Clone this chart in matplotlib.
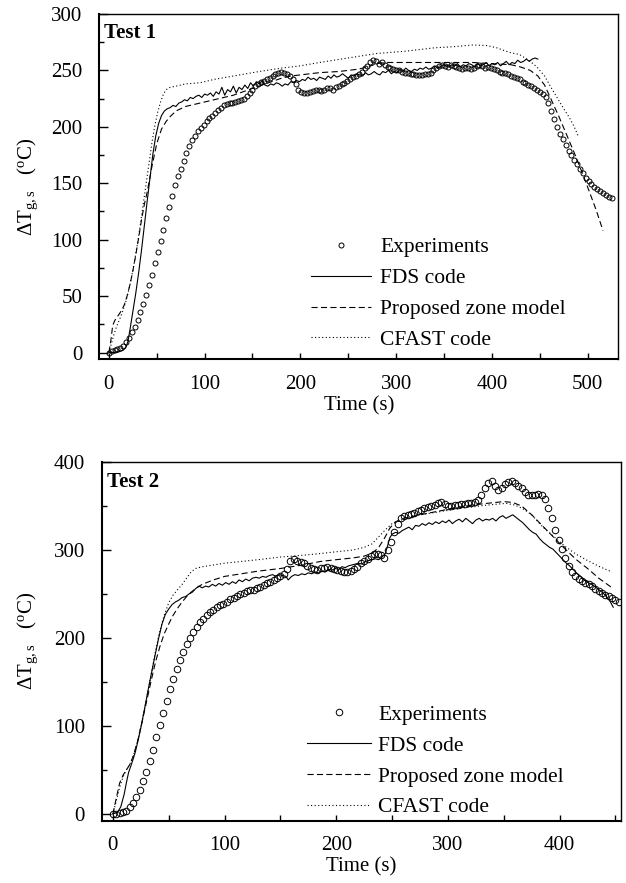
import matplotlib
matplotlib.use("Agg")
import matplotlib.pyplot as plt
from matplotlib.ticker import MultipleLocator

plt.rcParams['font.family'] = ['Liberation Serif', 'DejaVu Serif']
plt.rcParams['mathtext.fontset'] = 'custom'
plt.rcParams['mathtext.rm'] = 'Liberation Serif'
plt.rcParams['mathtext.it'] = 'Liberation Serif:italic'
plt.rcParams['mathtext.bf'] = 'Liberation Serif:bold'

# ---------------- Test 1 ----------------
t1_exp_time = list(range(0, 526, 3))
t1_exp_temp = [0, 1, 2, 3, 4, 6, 9, 13, 18, 23, 29, 36, 43, 51, 60, 69, 79, 89, 99, 109,
               119, 129, 139, 148, 156, 163, 170, 177, 183, 188, 192, 196, 199, 202, 205, 208, 210, 212, 215, 217,
               219, 220, 221, 221, 222, 223, 224, 225, 227, 230, 233, 236, 238, 240, 241, 242, 243, 245, 247, 248,
               249, 248, 247, 245, 242, 238, 233, 231, 230, 230, 231, 232, 233, 233, 232, 233, 234, 234, 233, 235,
               236, 238, 239, 241, 242, 244, 245, 247, 249, 252, 254, 257, 259, 258, 256, 257, 255, 253, 252, 251,
               250, 250, 249, 248, 248, 247, 247, 246, 246, 246, 247, 247, 248, 250, 252, 254, 255, 254, 253, 255,
               254, 253, 252, 251, 252, 252, 251, 252, 254, 255, 254, 252, 253, 252, 251, 250, 249, 248, 248, 247,
               245, 244, 243, 242, 240, 239, 237, 236, 234, 233, 231, 229, 226, 221, 214, 207, 200, 194, 189, 184,
               179, 175, 171, 167, 163, 159, 155, 152, 149, 147, 145, 143, 141, 140, 138, 137]

t1_fds_time = [0, 5, 10, 15, 18, 20, 22, 25, 28, 31, 34, 37, 40, 43, 46, 49, 52, 55, 58, 61,
               64, 67, 70, 73, 76, 79, 82, 85, 88, 91, 94, 97, 100, 103, 106, 109, 112, 115, 118, 121,
               124, 127, 130, 133, 136, 139, 142, 145, 148, 151, 154, 157, 160, 163, 166, 169, 172, 175, 178, 181,
               184, 187, 190, 193, 196, 199, 202, 205, 208, 211, 214, 217, 220, 223, 226, 229, 232, 235, 238, 241,
               244, 247, 250, 253, 256, 259, 262, 265, 268, 271, 274, 277, 280, 283, 286, 289, 292, 295, 298, 301,
               304, 307, 310, 313, 316, 319, 322, 325, 328, 331, 334, 337, 340, 343, 346, 349, 352, 355, 358, 361,
               364, 367, 370, 373, 376, 379, 382, 385, 388, 391, 394, 397, 400, 403, 406, 409, 412, 415, 418, 421,
               424, 427, 430, 433, 436, 439, 442, 445, 448]
t1_fds_temp = [0, 0, 0.5, 2, 5, 10, 20, 36, 52, 70, 90, 112, 134, 155, 176, 192, 203, 210, 214, 216,
               217, 219, 218, 221, 222, 224, 223, 226, 225, 227, 228, 226, 229, 228, 230, 227, 231, 229, 235, 228,
               233, 231, 236, 230, 235, 233, 237, 234, 239, 236, 240, 238, 241, 237, 236, 238, 237, 239, 238, 236,
               238, 237, 240, 239, 241, 240, 242, 241, 244, 242, 243, 241, 244, 243, 242, 245, 243, 246, 244, 245,
               247, 245, 243, 246, 245, 247, 246, 245, 248, 246, 247, 249, 247, 246, 249, 248, 250, 247, 249, 248,
               251, 249, 252, 250, 249, 251, 250, 252, 251, 253, 251, 252, 254, 252, 253, 255, 254, 253, 255, 254,
               256, 253, 255, 254, 256, 255, 253, 256, 254, 255, 257, 254, 256, 255, 257, 254, 256, 258, 255, 257,
               256, 259, 257, 258, 260, 258, 260, 261, 260]

t1_zone_time = [0, 2, 4, 6, 8, 10, 13, 16, 19, 22, 25, 28, 31, 34, 37, 40, 45, 50, 55, 60,
                64, 70, 75, 80, 90, 100, 110, 120, 130, 140, 150, 160, 170, 180, 190, 200, 220, 240, 260, 270,
                280, 290, 300, 320, 340, 360, 380, 400, 420, 430, 440, 448, 455, 462, 470, 478, 486, 494, 502, 509,
                516]
t1_zone_temp = [0, 10, 24, 28, 31, 33, 37, 42, 50, 60, 72, 86, 101, 117, 131, 142, 165, 185, 198, 205,
                209, 214, 216, 218, 220, 222, 224, 226, 228, 231, 234, 237, 240, 243, 245, 246, 248, 249, 251, 253,
                256, 257, 257, 257, 257, 257, 257, 256, 255, 253, 250, 245, 237, 224, 209, 193, 177, 160, 142, 126,
                108]

t1_cfast_time = [0, 3, 6, 9, 12, 15, 18, 21, 24, 27, 30, 33, 36, 39, 42, 45, 48, 51, 54, 57,
                 60, 64, 70, 80, 95, 110, 130, 157, 180, 200, 220, 250, 280, 310, 340, 360, 380, 395, 405, 418,
                 429, 440, 447, 455, 461, 468, 475, 481, 486, 490]
t1_cfast_temp = [0, 9, 18, 25, 31, 38, 46, 56, 68, 82, 97, 114, 132, 150, 168, 186, 201, 213, 222, 229,
                 233, 235, 236, 238, 239, 242, 245, 249, 252, 254, 257, 261, 265, 267, 270, 271, 272.5, 272, 270, 266,
                 264, 258, 253, 245, 236, 226, 216, 208, 200, 192]

# ---------------- Test 2 ----------------
t2_exp_time = list(range(0, 454, 3))
t2_exp_temp = [0.5, 0.5, 1, 2, 4, 8, 13, 19, 27, 37, 48, 60, 73, 87, 101, 115, 129, 142, 154, 165,
               175, 184, 193, 200, 207, 213, 218, 222, 226, 229, 232, 235, 237, 239, 241, 244, 246, 248, 250, 251,
               253, 254, 255, 257, 258, 260, 262, 264, 266, 268, 270, 273, 278, 287, 290, 288, 286, 285, 282, 279,
               278, 277, 279, 280, 281, 280, 278, 277, 276, 275, 275, 276, 278, 281, 285, 288, 290, 293, 295, 296,
               294, 291, 300, 309, 320, 330, 336, 339, 340, 341, 342, 344, 346, 348, 349, 350, 351, 353, 354, 352,
               350, 350, 351, 351, 352, 352, 353, 353, 355, 357, 362, 370, 376, 378, 373, 368, 371, 375, 377, 378,
               376, 373, 371, 366, 363, 362, 363, 364, 362, 358, 348, 336, 323, 311, 301, 291, 282, 275, 270, 267,
               265, 263, 261, 259, 256, 253, 251, 249, 248, 246, 243, 241]

t2_fds_time = [0, 4, 7, 10, 12, 14, 17, 20, 23, 26, 29, 32, 35, 38, 41, 44, 47, 50, 53, 56,
               59, 62, 65, 68, 71, 74, 77, 80, 83, 86, 89, 92, 95, 98, 101, 104, 107, 110, 113, 116,
               119, 122, 125, 128, 131, 134, 137, 140, 143, 146, 149, 152, 155, 157, 160, 163, 166, 169, 172, 175,
               178, 181, 184, 187, 190, 193, 196, 199, 202, 205, 208, 211, 214, 217, 220, 223, 226, 229, 232, 235,
               238, 241, 244, 246, 248, 250, 253, 256, 259, 262, 265, 268, 271, 274, 277, 280, 283, 286, 289, 292,
               295, 298, 301, 304, 307, 310, 313, 316, 319, 322, 325, 328, 331, 334, 337, 340, 343, 346, 349, 352,
               355, 358, 361, 364, 367, 370, 373, 376, 379, 382, 385, 388, 391, 394, 397, 400, 403, 406, 409, 412,
               415, 418, 421, 424, 427, 430, 433, 436, 439, 442, 445, 448]
t2_fds_temp = [0, 2, 8, 22, 35, 47, 58, 70, 86, 104, 124, 144, 163, 182, 200, 216, 227, 233, 238, 241,
               243, 246, 247, 250, 252, 256, 259, 257, 259, 258, 261, 259, 262, 260, 263, 261, 264, 262, 266, 264,
               267, 265, 268, 269, 268, 270, 269, 271, 272, 270, 272, 271, 270, 266, 270, 272, 271, 273, 272, 274,
               273, 275, 274, 276, 275, 278, 277, 279, 278, 281, 280, 282, 283, 284, 285, 284, 287, 288, 289, 290,
               289, 292, 296, 305, 314, 318, 320, 319, 322, 324, 326, 323, 328, 327, 330, 328, 331, 329, 332, 330,
               333, 331, 334, 330, 333, 335, 332, 336, 333, 330, 334, 336, 333, 335, 334, 336, 333, 337, 339, 336,
               338, 340, 337, 334, 331, 327, 323, 320, 318, 313, 309, 306, 303, 301, 297, 293, 289, 285, 282, 278,
               274, 271, 267, 264, 262, 260, 257, 254, 251, 247, 242, 235]

t2_zone_time = [0, 3, 6, 9, 12, 15, 18, 22, 26, 30, 34, 38, 42, 46, 50, 54, 58, 62, 66, 70,
                75, 80, 90, 100, 115, 130, 150, 170, 186, 200, 215, 225, 233, 238, 243, 248, 253, 260, 275, 295,
                315, 335, 350, 358, 366, 375, 385, 395, 405, 415, 425, 435, 447]
t2_zone_temp = [0, 18, 35, 44, 50, 56, 65, 82, 104, 127, 150, 172, 190, 205, 216, 226, 234, 241, 247, 252,
                257, 261, 266, 270, 273, 276, 279, 283, 287, 289, 291, 293, 297, 303, 313, 325, 332, 336, 340, 345,
                350, 353, 355, 354, 350, 340, 327, 314, 301, 289, 279, 268, 257]

t2_cfast_time = [0, 3, 6, 9, 12, 15, 18, 22, 26, 30, 34, 38, 42, 46, 50, 54, 58, 62, 66, 70,
                 74, 80, 90, 100, 115, 130, 150, 170, 186, 200, 215, 225, 232, 238, 244, 250, 258, 275, 295, 315,
                 335, 352, 360, 367, 375, 385, 395, 405, 415, 425, 436, 447]
t2_cfast_temp = [0, 15, 30, 42, 50, 56, 65, 82, 105, 130, 157, 184, 208, 226, 240, 249, 255, 261, 268, 275,
                 279, 281, 283, 285, 287, 289, 292, 294, 296, 298, 300, 303, 307, 315, 323, 330, 334, 340, 344, 348,
                 351, 353, 351, 347, 340, 326, 315, 304, 295, 288, 281, 275]

legend_labels = ["Experiments", "FDS code", "Proposed zone model", "CFAST code"]

FS = 15
LFS = 15.5
DASH = (0, (5.5, 3))
DOT = (0, (1, 2.2))

fig = plt.figure(figsize=(6.26, 8.83), dpi=100)
ax1 = fig.add_axes([0.1586, 0.5931, 0.8291, 0.3911])
ax2 = fig.add_axes([0.1625, 0.0706, 0.8296, 0.4062])


def style(ax, xlim, ylim, xmaj, ymaj, ymin):
    ax.set_xlim(*xlim)
    ax.set_ylim(*ylim)
    ax.xaxis.set_major_locator(MultipleLocator(xmaj))
    ax.xaxis.set_minor_locator(MultipleLocator(xmaj / 2))
    ax.yaxis.set_major_locator(MultipleLocator(ymaj))
    ax.yaxis.set_minor_locator(MultipleLocator(ymin))
    ax.tick_params(axis='x', which='both', direction='in', length=4, width=1.0,
                   labelsize=FS, pad=11, top=False)
    ax.tick_params(axis='y', which='major', direction='in', length=6.5, width=1.0,
                   labelsize=FS, pad=12, right=False)
    ax.tick_params(axis='y', which='minor', direction='in', length=3.5, width=1.0, right=False)
    for s in ['left', 'bottom']:
        ax.spines[s].set_linewidth(1.5)
    for s in ['top', 'right']:
        ax.spines[s].set_linewidth(1.0)


def draw(ax, et, ev, ft, fv, zt, zv, ct, cv, ms):
    ax.plot(et, ev, linestyle='none', marker='o', ms=ms, mfc='none', mec='black',
            mew=0.7, label=legend_labels[0])
    ax.plot(ft, fv, color='black', lw=0.8, label=legend_labels[1])
    ax.plot(zt, zv, color='black', lw=0.8, linestyle=DASH, label=legend_labels[2])
    ax.plot(ct, cv, color='black', lw=0.8, linestyle=DOT, label=legend_labels[3])


draw(ax1, t1_exp_time, t1_exp_temp, t1_fds_time, t1_fds_temp,
     t1_zone_time, t1_zone_temp, t1_cfast_time, t1_cfast_temp, 3.6)
style(ax1, (-10, 532), (-6, 300), 100, 50, 25)
draw(ax2, t2_exp_time, t2_exp_temp, t2_fds_time, t2_fds_temp,
     t2_zone_time, t2_zone_temp, t2_cfast_time, t2_cfast_temp, 4.7)
style(ax2, (-10, 455), (-7.5, 400), 100, 100, 50)

ylab = 'ΔT$_{\\rm g,s}$   ($^{\\rm o}$C)'
for ax, title, lx, anchor, htp, hl in [
        (ax1, 'Test 1', -0.114, (0.407, 0.353), 0.42, 2.83),
        (ax2, 'Test 2', -0.119, (0.395, 0.323), 0.31, 3.0)]:
    ax.text(0.01, 0.945, title, transform=ax.transAxes, fontsize=FS,
            fontweight='bold', ha='left', va='center')
    ax.set_ylabel(ylab, fontsize=FS)
    ax.yaxis.set_label_coords(lx, 0.5)
    ax.set_xlabel('Time (s)', fontsize=FS, labelpad=2)
    ax.legend(loc='upper left', bbox_to_anchor=anchor, frameon=False, fontsize=LFS,
              borderpad=0, borderaxespad=0, handlelength=hl, handletextpad=htp,
              labelspacing=0.5, numpoints=1)

fig.savefig('out.png', dpi=100)
